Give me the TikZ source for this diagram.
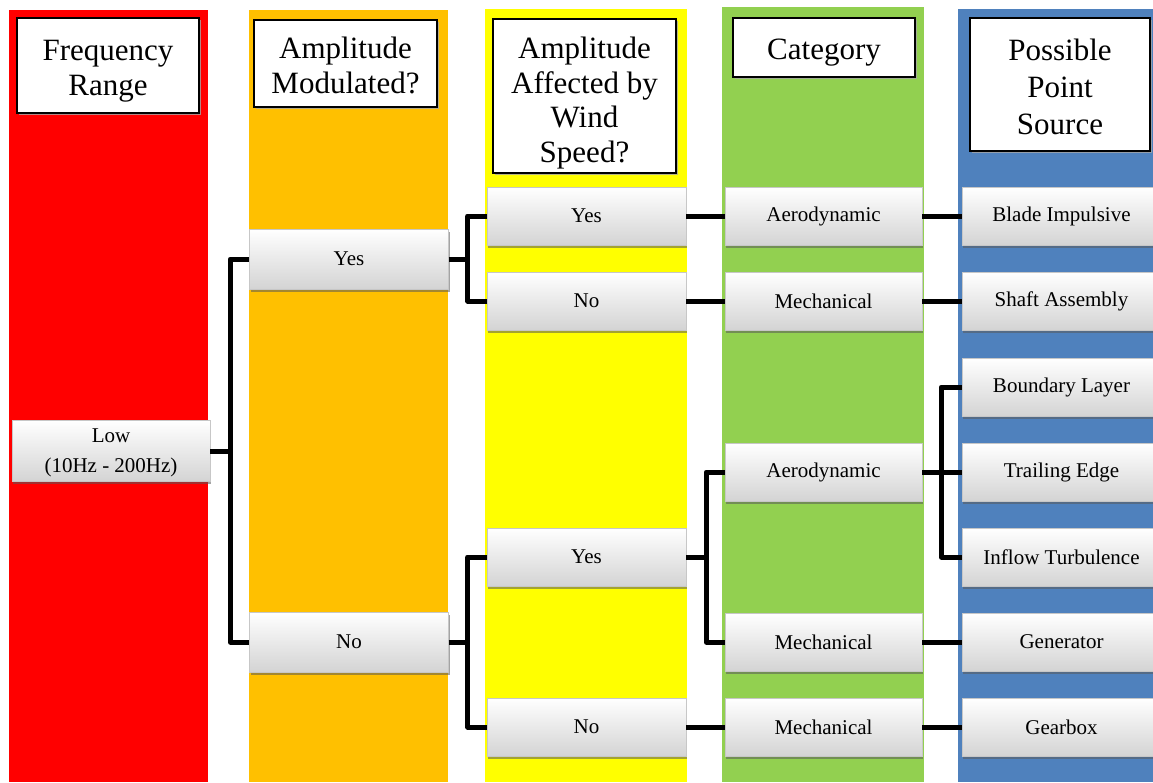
\documentclass[tikz,border=0pt]{standalone}
\usepackage{fontspec}
\setmainfont{Liberation Serif}
\usetikzlibrary{shadows}
\definecolor{colred}{HTML}{FF0000}
\definecolor{colorange}{HTML}{FFC000}
\definecolor{colyellow}{HTML}{FFFF00}
\definecolor{colgreen}{HTML}{92D050}
\definecolor{colblue}{HTML}{4F81BD}

\tikzset{
  choice/.style={minimum width=199pt, minimum height=58pt, inner sep=0pt, align=center,
    top color=white, middle color=white, bottom color=black!17, draw=black!22, line width=0.5pt,
    drop shadow={shadow xshift=1pt, shadow yshift=-2.5pt, fill=black!65, opacity=0.55},
    font=\fontsize{21}{30}\selectfont},
  headframe/.style={fill=white, draw=black, line width=1.8pt,
    drop shadow={shadow xshift=1.5pt, shadow yshift=-1.5pt, fill=black!35, opacity=0.8}},
  headtext/.style={inner sep=0pt, align=center, font=\fontsize{31}{35}\selectfont},
  link/.style={line width=5pt, black, line join=round},
}

\begin{document}
\begin{tikzpicture}[x=1pt, y=-1pt]

\useasboundingbox (0,0) rectangle (1153,782);
\clip (0,0) rectangle (1153,782);

% Column backgrounds
\fill[colred] (9,10) rectangle (208,782);
\fill[colorange] (249,10) rectangle (448,782);
\fill[colyellow] (485,9) rectangle (687,782);
\fill[colgreen] (722,7) rectangle (924,782);
\fill[colblue] (958,9) rectangle (1153,782);

% Column headers
\draw[headframe] (17,18) rectangle (199,113);
\node[headtext] (hfreq) at (108,71.5) {Frequency\\Range};
\draw[headframe] (254,20) rectangle (437,107);
\node[headtext] (hmod) at (345.5,65) {Amplitude\\Modulated?};
\draw[headframe] (493,19) rectangle (676,173);
\node[headtext, font=\fontsize{31}{34.5}\selectfont] (hwind) at (584.5,103) {Amplitude\\Affected by\\Wind\\Speed?};
\draw[headframe] (733,18) rectangle (915,77);
\node[headtext] (hcat) at (824,52.5) {Category};
\draw[headframe] (970,18) rectangle (1150,151);
\node[headtext, font=\fontsize{31}{37}\selectfont] (hsrc) at (1060,86.5) {Possible\\Point\\Source};

% Frequency range
\node[choice, minimum width=198pt, minimum height=61pt] (low) at (111,451) {\raisebox{-3pt}{\begin{tabular}{@{}c@{}}Low\\(10Hz - 200Hz)\end{tabular}}};

% Amplitude modulated?
\node[choice, minimum height=60pt] (amy) at (349,259) {Yes};
\node[choice, minimum height=60pt] (amn) at (349,642) {No};

% Affected by wind speed?
\node[choice] (wy1) at (586.5,216) {Yes};
\node[choice] (wn1) at (586.5,301) {No};
\node[choice] (wy2) at (586.5,557) {Yes};
\node[choice] (wn2) at (586.5,727) {No};

% Category
\node[choice, minimum width=197pt] (ca1) at (823.5,216) {Aerodynamic};
\node[choice, minimum width=197pt] (cm1) at (823.5,301) {Mechanical};
\node[choice, minimum width=197pt] (ca2) at (823.5,472) {Aerodynamic};
\node[choice, minimum width=197pt] (cm2) at (823.5,642) {Mechanical};
\node[choice, minimum width=197pt] (cm3) at (823.5,727) {Mechanical};

% Point sources
\node[choice] (sblade) at (1061.5,216) {Blade Impulsive};
\node[choice] (sshaft) at (1061.5,301) {Shaft Assembly};
\node[choice] (sbound) at (1061.5,387) {Boundary Layer};
\node[choice] (strail) at (1061.5,472) {Trailing Edge};
\node[choice] (sinflow) at (1061.5,557) {Inflow Turbulence};
\node[choice] (sgen) at (1061.5,642) {Generator};
\node[choice] (sgear) at (1061.5,727) {Gearbox};

% Connectors
\draw[link] (low.east) -- ++(20,0) |- (amy.west);
\draw[link] (low.east) -- ++(20,0) |- (amn.west);

\draw[link] (amy.east) -- ++(19,0) |- (wy1.west);
\draw[link] (amy.east) -- ++(19,0) |- (wn1.west);
\draw[link] (amn.east) -- ++(19,0) |- (wy2.west);
\draw[link] (amn.east) -- ++(19,0) |- (wn2.west);

\draw[link] (wy1.east) -- (ca1.west);
\draw[link] (wn1.east) -- (cm1.west);
\draw[link] (wy2.east) -- ++(20,0) |- (ca2.west);
\draw[link] (wy2.east) -- ++(20,0) |- (cm2.west);
\draw[link] (wn2.east) -- (cm3.west);

\draw[link] (ca1.east) -- (sblade.west);
\draw[link] (cm1.east) -- (sshaft.west);
\draw[link] (ca2.east) -- ++(19,0) |- (sbound.west);
\draw[link] (ca2.east) -- (strail.west);
\draw[link] (ca2.east) -- ++(19,0) |- (sinflow.west);
\draw[link] (cm2.east) -- (sgen.west);
\draw[link] (cm3.east) -- (sgear.west);

\end{tikzpicture}
\end{document}
